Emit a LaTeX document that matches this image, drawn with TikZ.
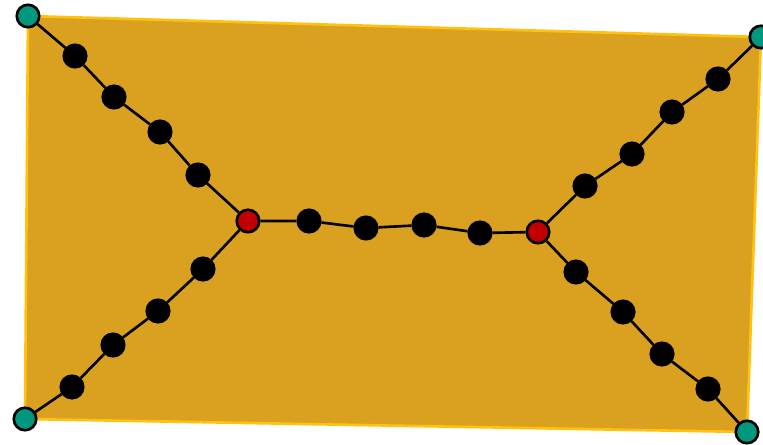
\documentclass[tikz,border=0pt]{standalone}
\usetikzlibrary{backgrounds}

\definecolor{areafill}{HTML}{DAA020}
\definecolor{arealine}{HTML}{FFC20E}
\definecolor{termfill}{HTML}{00977F}
\definecolor{hubfill}{HTML}{C00000}

\begin{document}
\begin{tikzpicture}[
    x=0.02cm, y=-0.02cm,
    vertex/.style={circle, draw=black, line width=1.5pt, fill=black,
        minimum size=0.45cm, inner sep=0pt},
    terminal/.style={vertex, fill=termfill},
    hub/.style={vertex, fill=hubfill},
    edge/.style={draw=black, line width=1.5pt}
]

\useasboundingbox (0,0) rectangle (763,445);

% terminals
\node[terminal] (tl) at (28,16) {};
\node[terminal] (tr) at (761,37) {};
\node[terminal] (br) at (747,432) {};
\node[terminal] (bl) at (25,419) {};

% hubs
\node[hub] (hl) at (248,221) {};
\node[hub] (hr) at (538,232) {};

% left upper branch
\node[vertex] (a1) at (75,56) {};
\node[vertex] (a2) at (114,97) {};
\node[vertex] (a3) at (160,132) {};
\node[vertex] (a4) at (198,175) {};

% left lower branch
\node[vertex] (b1) at (72,387) {};
\node[vertex] (b2) at (113,345) {};
\node[vertex] (b3) at (158,311) {};
\node[vertex] (b4) at (203,269) {};

% middle
\node[vertex] (m1) at (309,221) {};
\node[vertex] (m2) at (366,228) {};
\node[vertex] (m3) at (424,225) {};
\node[vertex] (m4) at (480,233) {};

% right upper branch
\node[vertex] (c1) at (585,186) {};
\node[vertex] (c2) at (632,154) {};
\node[vertex] (c3) at (672,112) {};
\node[vertex] (c4) at (718,79) {};

% right lower branch
\node[vertex] (d1) at (576,272) {};
\node[vertex] (d2) at (623,312) {};
\node[vertex] (d3) at (662,354) {};
\node[vertex] (d4) at (708,389) {};

\begin{scope}[on background layer]
    \draw[fill=areafill, draw=arealine, line width=1.5pt, line join=round]
        (tl.center) -- (tr.center) -- (br.center) -- (bl.center) -- cycle;
\end{scope}

\draw[edge] (tl) -- (a1) -- (a2) -- (a3) -- (a4) -- (hl);
\draw[edge] (bl) -- (b1) -- (b2) -- (b3) -- (b4) -- (hl);
\draw[edge] (hl) -- (m1) -- (m2) -- (m3) -- (m4) -- (hr);
\draw[edge] (hr) -- (c1) -- (c2) -- (c3) -- (c4) -- (tr);
\draw[edge] (hr) -- (d1) -- (d2) -- (d3) -- (d4) -- (br);

\end{tikzpicture}
\end{document}
